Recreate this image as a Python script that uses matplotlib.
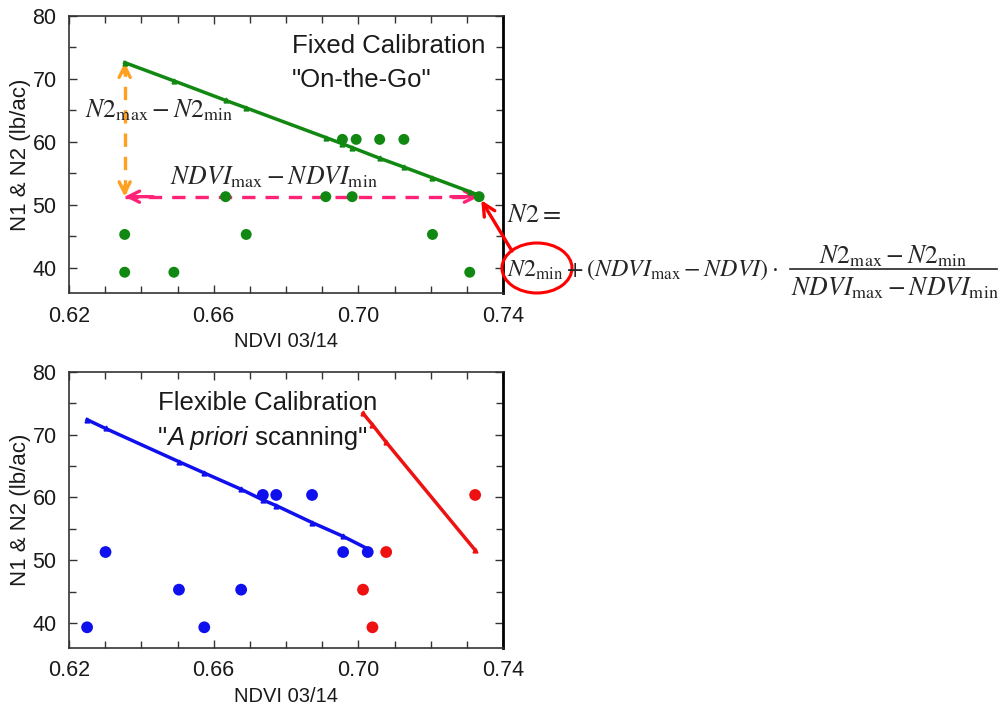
import matplotlib
matplotlib.use("Agg")
import matplotlib.pyplot as plt
from matplotlib.patches import Ellipse
from matplotlib.ticker import MultipleLocator
from matplotlib.lines import Line2D
from matplotlib.offsetbox import TextArea, HPacker, AnchoredOffsetbox

plt.rcParams['font.family'] = ['Liberation Sans', 'DejaVu Sans']
plt.rcParams['mathtext.fontset'] = 'stix'

# ---- data ----
top_ndvi = [0.6354, 0.6354, 0.6490, 0.6633, 0.6690, 0.6910, 0.6956, 0.6983,
            0.6994, 0.7059, 0.7126, 0.7205, 0.7308, 0.7334]
top_n = [45.3, 39.3, 39.3, 51.3, 45.3, 51.3, 60.4, 51.3,
         60.4, 60.4, 60.4, 45.3, 39.3, 51.3]
top_line_x = [0.6354, 0.6490, 0.6633, 0.6690, 0.6910, 0.6956, 0.6983,
              0.7059, 0.7126, 0.7205, 0.7308, 0.7334]
top_line_y = [72.6, 69.7, 66.6, 65.4, 60.7, 59.7, 59.1,
              57.4, 56.0, 54.3, 52.1, 51.5]

blue_ndvi = [0.6250, 0.6301, 0.6504, 0.6574, 0.6676, 0.6736, 0.6773, 0.6872, 0.6958, 0.7026]
blue_n = [39.3, 51.3, 45.3, 39.3, 45.3, 60.4, 60.4, 60.4, 51.3, 51.3]
blue_line_x = [0.6250, 0.6301, 0.6504, 0.6574, 0.6676, 0.6736, 0.6773, 0.6872, 0.6958, 0.7026]
blue_line_y = [72.4, 71.0, 65.7, 63.9, 61.3, 59.6, 58.7, 56.0, 53.8, 51.8]

red_ndvi = [0.7013, 0.7039, 0.7077, 0.7323]
red_n = [45.3, 39.3, 51.3, 60.4]
red_line_x = [0.7013, 0.7039, 0.7077, 0.7323]
red_line_y = [73.4, 71.6, 68.8, 51.6]

xticks = [0.62, 0.66, 0.70, 0.74]
xticklabels = ["0.62", "0.66", "0.70", "0.74"]
yticks = [40, 50, 60, 70, 80]

W, H = 998, 709
fig = plt.figure(figsize=(W / 100, H / 100), dpi=100)
TXT = '#1a1a1a'
MATH = '#262626'

def style(ax):
    ax.set_xlim(0.62, 0.74)
    ax.set_ylim(36, 80)
    ax.set_xticks(xticks)
    ax.set_xticklabels(xticklabels)
    ax.xaxis.set_minor_locator(MultipleLocator(0.01))
    ax.set_yticks(yticks)
    ax.yaxis.set_minor_locator(MultipleLocator(5))
    ax.tick_params(which='both', direction='in', top=True, right=True,
                   labelsize=15.5, color='#333333', width=1, labelcolor=TXT)
    ax.tick_params(which='major', length=6, pad=9)
    ax.tick_params(which='minor', length=5)
    for s in ['left', 'bottom', 'top']:
        ax.spines[s].set_color('#333333')
        ax.spines[s].set_linewidth(1.2)
    ax.spines['right'].set_color('black')
    ax.spines['right'].set_linewidth(2)
    ax.set_xlabel("NDVI 03/14", fontsize=14.5, color=TXT, labelpad=4)
    ax.set_ylabel("N1 & N2 (lb/ac)", fontsize=16, color=TXT, labelpad=1)

def dashed_double_arrow(ax, p0, p1, color):
    ax.add_line(Line2D([p0[0], p1[0]], [p0[1], p1[1]], color=color, lw=2.4,
                       ls=(0, (4, 3)), zorder=2))
    for a, b in ((p0, p1), (p1, p0)):
        ax.annotate('', xy=a, xytext=(a[0] + (b[0] - a[0]) * 0.08, a[1] + (b[1] - a[1]) * 0.08),
                    arrowprops=dict(arrowstyle='->', color=color, lw=2.4,
                                    mutation_scale=20, shrinkA=0, shrinkB=0), zorder=2)

# ---- top axes ----
ax1 = fig.add_axes([69 / W, 1 - 293 / H, 434 / W, 277 / H])
style(ax1)
green = '#118811'
ax1.plot(top_line_x, top_line_y, color=green, lw=2.5, marker='^', ms=3.5, zorder=3)
ax1.scatter(top_ndvi, top_n, s=62, color=green, zorder=4, edgecolors='none')

dashed_double_arrow(ax1, (top_line_x[0], top_line_y[0]), (top_line_x[0], top_n[3]), '#ffa020')
dashed_double_arrow(ax1, (top_ndvi[0], top_n[3]), (top_ndvi[-1], top_n[3]), '#ff2277')

fig.text(292 / W, 1 - 46 / H, "Fixed Calibration", fontsize=18.5, va='center', ha='left', color=TXT)
fig.text(292 / W, 1 - 80 / H, '"On-the-Go"', fontsize=18.5, va='center', ha='left', color=TXT)
fig.text(85 / W, 1 - 110 / H, r'$N2_{\mathrm{max}} - N2_{\mathrm{min}}$', fontsize=18.5,
         va='center', ha='left', color=MATH)
fig.text(170 / W, 1 - 177 / H, r'$NDVI_{\mathrm{max}} - NDVI_{\mathrm{min}}$', fontsize=18.5,
         va='center', ha='left', color=MATH)

# formula
fig.text(507 / W, 1 - 215 / H, r'$N2 =$', fontsize=19, va='center', ha='left', color=MATH)
fig.text(507 / W, 1 - 270 / H,
         r'$N2_{\mathrm{min}} + \left(NDVI_{\mathrm{max}} - NDVI\right)\cdot$',
         fontsize=17.3, va='center', ha='left', color=MATH)
fig.text(893 / W, 1 - 256 / H, r'$N2_{\mathrm{max}} - N2_{\mathrm{min}}$',
         fontsize=18.5, va='center', ha='center', color=MATH)
fig.text(895 / W, 1 - 288 / H, r'$NDVI_{\mathrm{max}} - NDVI_{\mathrm{min}}$',
         fontsize=18.5, va='center', ha='center', color=MATH)
fig.add_artist(Line2D([790 / W, 997 / W], [1 - 269 / H, 1 - 269 / H],
                      transform=fig.transFigure, color=MATH, lw=1.2))

# red ellipse and arrow
ell = Ellipse((537 / 100, (H - 268) / 100), 0.70, 0.50, transform=fig.dpi_scale_trans,
              fill=False, edgecolor='red', lw=2.2)
fig.add_artist(ell)
ax1.annotate('', xy=(top_ndvi[-1], top_n[-1]), xycoords='data',
             xytext=(512, H - 251), textcoords='figure pixels',
             arrowprops=dict(arrowstyle='->', color='red', lw=2.4, mutation_scale=22,
                             shrinkA=0, shrinkB=3),
             annotation_clip=False)

# ---- bottom axes ----
ax2 = fig.add_axes([69 / W, 1 - 648 / H, 434 / W, 276 / H])
style(ax2)
blue = '#1010ee'
red = '#ee1111'
ax2.plot(blue_line_x, blue_line_y, color=blue, lw=2.5, marker='^', ms=3.5, zorder=3)
ax2.scatter(blue_ndvi, blue_n, s=72, color=blue, zorder=4, edgecolors='none')
ax2.plot(red_line_x, red_line_y, color=red, lw=2.5, marker='^', ms=3.5, zorder=3)
ax2.scatter(red_ndvi, red_n, s=72, color=red, zorder=4, edgecolors='none')

fig.text(158 / W, 1 - 403 / H, "Flexible Calibration", fontsize=18.5, va='center', ha='left', color=TXT)
parts = [TextArea('"', textprops=dict(fontsize=18.5, color=TXT)),
         TextArea('A priori', textprops=dict(fontsize=18.5, color=TXT, style='italic')),
         TextArea(' scanning"', textprops=dict(fontsize=18.5, color=TXT))]
box = HPacker(children=parts, align='baseline', pad=0, sep=0)
ab = AnchoredOffsetbox(loc='center left', child=box, pad=0, borderpad=0, frameon=False,
                       bbox_to_anchor=(158 / W, 1 - 438 / H), bbox_transform=fig.transFigure)
fig.add_artist(ab)

fig.savefig("out.png", dpi=100)
